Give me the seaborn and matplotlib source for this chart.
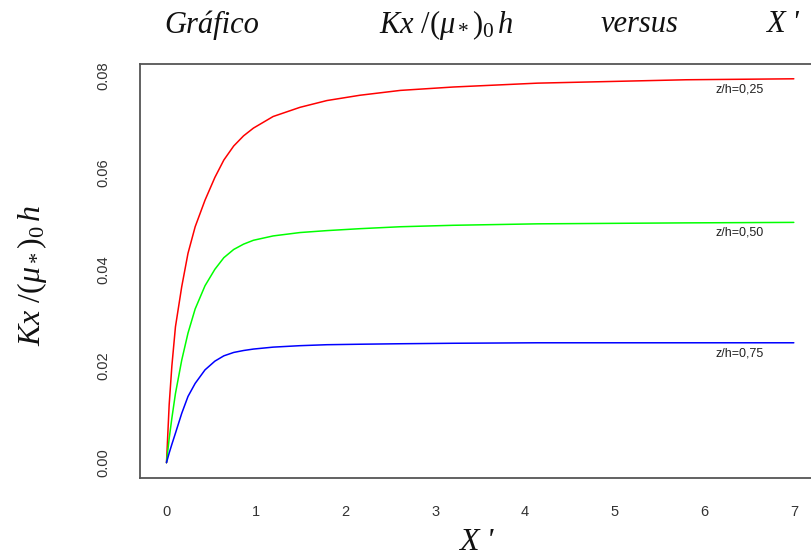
import matplotlib
matplotlib.use("Agg")
import matplotlib.pyplot as plt
import seaborn as sns
import pandas as pd

# valores
x_vals = [0, 0.03, 0.06, 0.10, 0.17, 0.24, 0.32, 0.43, 0.54, 0.64, 0.75,
          0.86, 0.97, 1.19, 1.49, 1.79, 2.16, 2.61, 3.20, 4.14, 5.80, 7.00]
kx_025 = [0.0, 0.0120, 0.0200, 0.0281, 0.0364, 0.0433, 0.0488, 0.0543, 0.0590, 0.0626, 0.0655,
          0.0676, 0.0692, 0.0716, 0.0735, 0.0749, 0.0760, 0.0770, 0.0777, 0.0785, 0.0792, 0.0794]
kx_050 = [0.0, 0.0050, 0.0092, 0.0143, 0.0212, 0.0268, 0.0318, 0.0366, 0.0400, 0.0424, 0.0441,
          0.0452, 0.0460, 0.0469, 0.0476, 0.0480, 0.0484, 0.0488, 0.0491, 0.0494, 0.0496, 0.0497]
kx_075 = [0.0, 0.0020, 0.0038, 0.0061, 0.0102, 0.0137, 0.0164, 0.0192, 0.0210, 0.0221, 0.0228,
          0.0232, 0.0235, 0.0239, 0.0242, 0.0244, 0.0245, 0.0246, 0.0247, 0.0248, 0.0248, 0.0248]

series_names = ["z/h=0,25", "z/h=0,50", "z/h=0,75"]
series_colors = ["#FF0000", "#00FF00", "#0000FF"]
label_y = [0.0772, 0.0476, 0.0226]
x_ticks = [0, 1, 2, 3, 4, 5, 6, 7]
y_ticks = [0.00, 0.02, 0.04, 0.06, 0.08]
y_tick_labels = ["0.00", "0.02", "0.04", "0.06", "0.08"]

df = pd.concat([
    pd.DataFrame({"x": x_vals, "kx": vals, "serie": name})
    for name, vals in zip(series_names, [kx_025, kx_050, kx_075])
])

sns.set_style("white")
plt.rcParams["font.family"] = ["Liberation Sans", "DejaVu Sans"]
plt.rcParams["mathtext.fontset"] = "custom"
plt.rcParams["mathtext.it"] = "Liberation Serif:italic"
plt.rcParams["mathtext.rm"] = "Liberation Serif"
plt.rcParams["mathtext.bf"] = "Liberation Serif:bold"

W, H = 811, 560
fig = plt.figure(figsize=(W / 100, H / 100), dpi=100)
ax = fig.add_axes([139.6 / W, 1 - 478.3 / H, (820.7 - 139.6) / W, (478.3 - 64) / H])

sns.lineplot(data=df, x="x", y="kx", hue="serie", palette=dict(zip(series_names, series_colors)),
             linewidth=1.1, legend=False, ax=ax, sort=True)

ax.set_xlim(-0.3, 7.3)
ax.set_ylim(-0.00323, 0.08246)
ax.set_xticks(x_ticks)
ax.set_xticklabels([str(t) for t in x_ticks])
ax.set_yticks(y_ticks)
ax.set_yticklabels(y_tick_labels, rotation=90, va="center")
ax.tick_params(axis="x", length=7.2, width=1, color="#555555", pad=12, labelsize=10.5, labelcolor="#333333")
ax.tick_params(axis="y", length=9.4, width=1, color="#555555", pad=11.5, labelsize=10.5, labelcolor="#333333")
ax.set_xlabel("")
ax.set_ylabel("")
for s in ax.spines.values():
    s.set_color("#555555")
    s.set_linewidth(1.3)

for name, yy in zip(series_names, label_y):
    ax.text(6.4, yy, name, ha="center", va="center", fontsize=9, color="#222222")

# título em partes
ty = 1 - 25 / H
serif = dict(family="Liberation Serif", style="italic", size=22, va="center", ha="center", color="#111111")
fig.text(212 / W, ty, "Gráfico", **serif)
fig.text(446 / W, ty, r"$Kx\ /(\mu_*)_0\,h$", **serif)
fig.text(640 / W, ty, "versus", **serif)
fig.text(782 / W, ty, "X '", **serif)

# rótulos dos eixos
fig.text(32 / W, 1 - 275 / H, r"$Kx\ /(\mu_*)_0\,h$", rotation=90, ha="center", va="center",
         size=23, color="#111111")
fig.text(476 / W, 1 - 557 / H, "X '", family="Liberation Serif", style="italic", size=23,
         ha="center", va="bottom", color="#111111")

plt.savefig("out.png", dpi=100)
plt.close()
